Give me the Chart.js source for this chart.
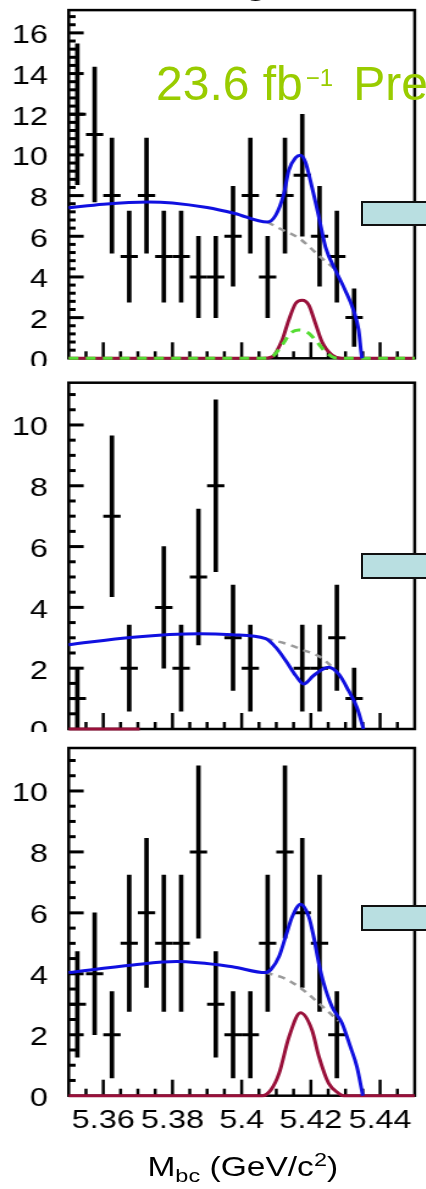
<!DOCTYPE html>
<html>
<head>
<meta charset="utf-8">
<script src="https://cdn.jsdelivr.net/npm/chart.js@4.4.0/dist/chart.umd.min.js"></script>
<style>
  html, body { margin: 0; padding: 0; background: #fff; }
  body { width: 426px; height: 1189px; overflow: hidden; position: relative;
         font-family: "Liberation Sans", Arial, sans-serif; }
  .panel { position: absolute; left: 0; width: 426px; overflow: hidden; }
  .stretch { position: absolute; left: 0; top: 0; width: 350px; transform: scaleX(1.22); transform-origin: 0 0; }
  .stretch canvas { display: block; }
  .tag { position: absolute; left: 361px; width: 80px; background: #b9dfe1; border: 2px solid #111; box-sizing: border-box; }
  .xtitle { position: absolute; left: 0; width: 398px; top: 421px; text-align: center; font-size: 27.5px;
            line-height: 1; color: #000; white-space: nowrap; }
  .xtitle sub { font-size: 0.7em; vertical-align: baseline; position: relative; top: 0.3em; }
  .xtitle sup { font-size: 0.7em; vertical-align: baseline; position: relative; top: -0.5em; }
  .lumi { position: absolute; left: 156px; top: 60px; font-size: 48px; line-height: 1; color: #99cc00; white-space: nowrap; }
  .lumi sup { font-size: 24px; vertical-align: baseline; position: relative; top: -14px; margin-left: 3px; }
  .cut { position: absolute; left: 242px; top: -51px; font-size: 50px; line-height: 1; color: #000; }
</style>
</head>
<body>

<div class="cut">g</div>

<div class="panel" style="top:0; height:366px;">
  <div class="stretch"><canvas id="p1" width="350" height="390"></canvas></div>
</div>
<div class="panel" style="top:366px; height:366px;">
  <div class="stretch"><canvas id="p2" width="350" height="390"></canvas></div>
</div>
<div class="panel" style="top:732px; height:457px;">
  <div class="stretch">
    <canvas id="p3" width="350" height="457"></canvas>
    <div class="xtitle">M<sub>bc</sub> (GeV/c<sup>2</sup>)</div>
  </div>
</div>

<div class="tag" style="top:201px; height:25px;"></div>
<div class="tag" style="top:553px; height:26px;"></div>
<div class="tag" style="top:905px; height:26px;"></div>

<div class="lumi">23.6 fb<sup>−1</sup><span style="margin-left:20px">Preliminary</span></div>

<script>
// ---- data ----

// bin centres of the Mbc histogram, GeV/c^2
const binCenters = [5.3525, 5.3575, 5.3625, 5.3675, 5.3725, 5.3775, 5.3825, 5.3875, 5.3925, 5.3975,
                    5.4025, 5.4075, 5.4125, 5.4175, 5.4225, 5.4275, 5.4325, 5.4375, 5.4425, 5.4475];

// events per bin, top / middle / bottom panel
const counts1 = [12, 11, 8, 5, 8, 5, 5, 4, 4, 6, 8, 4, 8, 9, 6, 5, 2, 0, 0, 0];
const counts2 = [1, 0, 7, 2, 0, 4, 2, 5, 8, 3, 2, 0, 0, 2, 2, 3, 1, 0, 0, 0];
const counts3 = [3, 4, 2, 5, 6, 5, 5, 8, 3, 2, 2, 5, 8, 6, 5, 2, 0, 0, 0, 0];

// fit curves, [x, y]
const total1 = [[5.3500, 7.40], [5.3600, 7.58], [5.3730, 7.69], [5.3800, 7.64], [5.3900, 7.41],
                [5.3980, 7.12], [5.4074, 6.70], [5.4098, 7.03], [5.4122, 8.10], [5.4136, 9.24],
                [5.4156, 9.87], [5.4170, 9.98], [5.4184, 9.65], [5.4203, 8.42], [5.4223, 6.95],
                [5.4242, 5.48], [5.4271, 4.33], [5.4299, 3.35], [5.4323, 2.37], [5.4338, 1.39],
                [5.4347, 0.08], [5.4349, 0]];
const bkg1 = [[5.4074, 6.70], [5.4110, 6.38], [5.4167, 5.89], [5.4227, 4.99], [5.4256, 4.58], [5.4275, 4.30]];
const sig1 = [[5.3500, 0], [5.4060, 0], [5.4088, 0.08], [5.4117, 0.90], [5.4136, 1.88], [5.4156, 2.70],
              [5.4175, 2.86], [5.4194, 2.62], [5.4213, 1.72], [5.4232, 0.81], [5.4261, 0.16],
              [5.4290, 0], [5.4500, 0]];
const peak1 = [[5.3500, 0], [5.4065, 0], [5.4088, 0.08], [5.4117, 0.65], [5.4141, 1.23], [5.4165, 1.39],
               [5.4194, 1.23], [5.4213, 0.90], [5.4237, 0.41], [5.4261, 0.08], [5.4280, 0], [5.4500, 0]];

const total2 = [[5.3500, 2.77], [5.3686, 3.02], [5.3878, 3.13], [5.3973, 3.10], [5.4069, 2.97],
                [5.4098, 2.69], [5.4127, 2.25], [5.4156, 1.76], [5.4179, 1.48], [5.4208, 1.76],
                [5.4251, 2.03], [5.4280, 1.81], [5.4309, 1.26], [5.4333, 0.71], [5.4352, 0]];
const bkg2 = [[5.4069, 2.97], [5.4124, 2.82], [5.4177, 2.60], [5.4225, 2.38], [5.4251, 2.15], [5.4275, 1.88]];
const sig2 = [[5.3500, 0], [5.3705, 0]];

const total3 = [[5.3500, 4.04], [5.3686, 4.29], [5.3811, 4.40], [5.3973, 4.23], [5.4069, 4.04],
                [5.4085, 4.15], [5.4108, 4.57], [5.4127, 5.22], [5.4146, 5.87], [5.4170, 6.28],
                [5.4194, 5.87], [5.4208, 5.22], [5.4223, 4.34], [5.4237, 3.69], [5.4261, 2.92],
                [5.4290, 2.38], [5.4314, 1.61], [5.4333, 0.95], [5.4347, 0.18], [5.4350, 0]];
const bkg3 = [[5.4069, 4.04], [5.4124, 3.85], [5.4180, 3.45], [5.4225, 3.01], [5.4256, 2.70], [5.4280, 2.45]];
const sig3 = [[5.3500, 0], [5.4060, 0], [5.4085, 0.20], [5.4108, 0.73], [5.4137, 1.94], [5.4170, 2.72],
              [5.4203, 2.16], [5.4223, 1.29], [5.4251, 0.41], [5.4280, 0.08], [5.4295, 0], [5.4500, 0]];

// axis labels
const xTickValues = [5.36, 5.38, 5.40, 5.42, 5.44];
const xTickLabels = ['5.36', '5.38', '5.4', '5.42', '5.44'];
const yTicks1 = [0, 2, 4, 6, 8, 10, 12, 14, 16];
const yTicks23 = [0, 2, 4, 6, 8, 10];


// ---- drawing ----

const FONT = { family: '"Liberation Sans", Arial, sans-serif', size: 26.5 };
const toXY = arr => arr.map(p => ({ x: p[0], y: p[1] }));

// ROOT-like frame with ticks pointing inwards
const frameTicks = {
    id: 'frameTicks',
    beforeDatasetsDraw(chart, args, opts) {
        const { ctx, chartArea: a, scales: { x, y } } = chart;
        ctx.save();
        ctx.strokeStyle = '#000';
        ctx.lineCap = 'butt';

        ctx.lineWidth = 2.5;
        for (let k = 1; k < 20; k++) {
            const px = x.getPixelForValue(5.35 + k * 0.005);
            const len = (k % 4 === 2) ? 16 : 7;
            ctx.beginPath();
            ctx.moveTo(px, a.bottom);
            ctx.lineTo(px, a.bottom - len);
            ctx.stroke();
        }

        ctx.lineWidth = 3;
        for (let k = 1; k * opts.yMinor < y.max; k++) {
            const v = k * opts.yMinor;
            const py = y.getPixelForValue(v);
            const major = Math.abs(v / 2 - Math.round(v / 2)) < 1e-6;
            ctx.beginPath();
            ctx.moveTo(a.left, py);
            ctx.lineTo(a.left + (major ? 12.3 : 5.7), py);
            ctx.stroke();
        }

        ctx.lineWidth = 2.5;
        ctx.strokeRect(a.left, a.top, a.right - a.left, a.bottom - a.top);
        ctx.restore();
    }
};

function curve(data, color, width, dash, order) {
    return {
        type: 'line', data: toXY(data), borderColor: color, borderWidth: width,
        borderDash: dash || [], pointRadius: 0, fill: false,
        cubicInterpolationMode: 'monotone', clip: false, order: order
    };
}

function makePanel(id, cfg) {
    const pts = binCenters.map((x, i) => ({ x: x, n: cfg.counts[i] })).filter(p => p.n > 0);
    const datasets = cfg.curves.concat([
        {
            type: 'scatter', data: pts.map(p => ({ x: p.x, y: p.n })),
            pointStyle: 'line', pointRadius: 7.1, pointBorderWidth: 3,
            pointBorderColor: '#000', pointBackgroundColor: '#000', order: 8
        },
        {
            type: 'bar', data: pts.map(p => ({ x: p.x, y: [p.n - Math.sqrt(p.n), p.n + Math.sqrt(p.n)] })),
            backgroundColor: '#000', borderWidth: 0, barThickness: 3, order: 9
        }
    ]);

    new Chart(document.getElementById(id), {
        type: 'scatter',
        data: { datasets: datasets },
        plugins: [frameTicks],
        options: {
            responsive: false,
            animation: false,
            events: [],
            layout: { padding: { left: 0, right: 8.6, top: cfg.top, bottom: 0 } },
            plugins: {
                legend: { display: false },
                tooltip: { enabled: false },
                frameTicks: { yMinor: cfg.yMinor }
            },
            scales: {
                x: {
                    type: 'linear', min: 5.35, max: 5.45, offset: false,
                    grid: { display: false, drawTicks: false },
                    border: { display: false },
                    ticks: {
                        display: cfg.xLabels, font: FONT, color: '#000', padding: 9,
                        maxRotation: 0, autoSkip: false,
                        callback: v => {
                            const i = xTickValues.findIndex(t => Math.abs(t - v) < 1e-9);
                            return i >= 0 ? xTickLabels[i] : '';
                        }
                    },
                    afterBuildTicks: s => { s.ticks = xTickValues.map(v => ({ value: v })); },
                    afterFit: s => { s.height = cfg.xHeight; s.paddingLeft = 0; s.paddingRight = 0; }
                },
                y: {
                    type: 'linear', min: 0, max: cfg.ymax,
                    grid: { display: false, drawTicks: false },
                    border: { display: false },
                    ticks: { font: FONT, color: '#000', padding: 17, labelOffset: 3, autoSkip: false },
                    afterBuildTicks: s => { s.ticks = cfg.yTicks.map(v => ({ value: v })); },
                    afterFit: s => { s.width = 56.3; s.paddingTop = 0; s.paddingBottom = 0; }
                }
            }
        }
    });
}

makePanel('p1', {
    counts: counts1, ymax: 17.12, yTicks: yTicks1, yMinor: 0.4,
    top: 9.5, xHeight: 31.7, xLabels: false,
    curves: [
        curve(total1, '#1010e0', 3, null, 0),
        curve(bkg1, '#9a9a9a', 2.5, [6, 5], 1),
        curve(peak1, '#55dd33', 3, [8, 6], 2),
        curve(sig1, '#99103a', 3, null, 3)
    ]
});

makePanel('p2', {
    counts: counts2, ymax: 11.39, yTicks: yTicks23, yMinor: 0.5,
    top: 16.7, xHeight: 27, xLabels: false,
    curves: [
        curve(total2, '#1010e0', 3, null, 0),
        curve(bkg2, '#9a9a9a', 2.5, [6, 5], 1),
        curve(sig2, '#99103a', 3, null, 3)
    ]
});

makePanel('p3', {
    counts: counts3, ymax: 11.41, yTicks: yTicks23, yMinor: 0.5,
    top: 16, xHeight: 93.3, xLabels: true,
    curves: [
        curve(total3, '#1010e0', 3, null, 0),
        curve(bkg3, '#9a9a9a', 2.5, [6, 5], 1),
        curve(sig3, '#99103a', 3, null, 3)
    ]
});
</script>
</body>
</html>
